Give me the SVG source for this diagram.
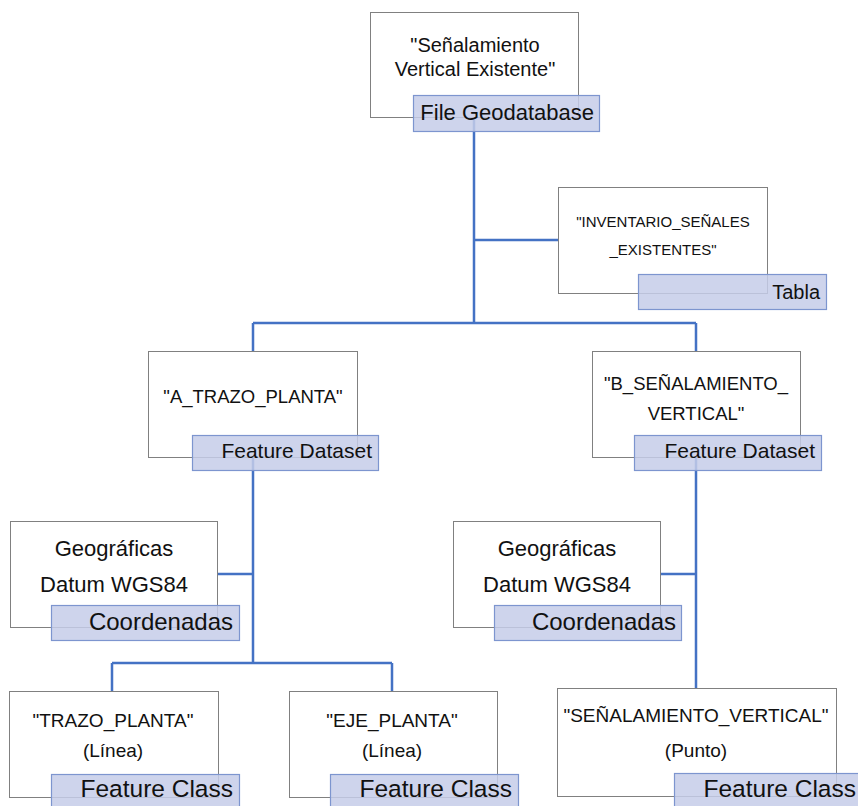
<svg xmlns="http://www.w3.org/2000/svg" width="858" height="806" viewBox="0 0 858 806">
<style>
.box{fill:#fff;stroke:#808080;stroke-width:1}
.lab{fill:#c5cde9;fill-opacity:0.85;stroke:#7d95cf;stroke-width:1.2}
.conn{fill:none;stroke:#4472c4;stroke-width:2.5}
text{font-family:"Liberation Sans",Arial,sans-serif;fill:#111}
.r{font-size:20px;text-anchor:middle}
.t{font-size:18.5px;text-anchor:middle}
.s{font-size:15px;text-anchor:middle}
.g{font-size:22px;text-anchor:middle}
.l{font-size:21px;text-anchor:end}
.b{font-size:24px;text-anchor:end}
</style>
<rect width="858" height="806" fill="#fff"/>
<g id="connectors">
<path class="conn" d="M474,120 V323 M474,240 H558 M253,323 H696 M253,323 V351 M696,323 V351 M253,458 V663 M253,574 H217 M112,663 H392 M112,663 V691 M392,663 V691 M696,458 V688 M696,574 H660"/>
</g>
<g id="n_root">
<rect class="box" x="370.5" y="12.5" width="208" height="105"/>
<rect class="lab" x="413.5" y="95.5" width="186" height="36"/>
<text class="r" x="475" y="52">"Señalamiento</text>
<text class="r" x="475" y="76">Vertical Existente"</text>
<text class="l" x="594" y="120" style="font-size:22px">File Geodatabase</text>
</g>
<g id="n_tabla">
<rect class="box" x="558.5" y="187.5" width="209" height="106"/>
<rect class="lab" x="638.5" y="274.5" width="188" height="35"/>
<text class="s" x="663" y="227">"INVENTARIO_SEÑALES</text>
<text class="s" x="663" y="255">_EXISTENTES"</text>
<text class="l" x="820" y="299" style="font-size:20px">Tabla</text>
</g>
<g id="n_a">
<rect class="box" x="148.5" y="351.5" width="209" height="106"/>
<rect class="lab" x="192.5" y="435.5" width="186" height="35"/>
<text class="t" x="253" y="403">"A_TRAZO_PLANTA"</text>
<text class="l" x="372" y="458">Feature Dataset</text>
</g>
<g id="n_b">
<rect class="box" x="592.5" y="351.5" width="208" height="106"/>
<rect class="lab" x="634.5" y="435.5" width="187" height="35"/>
<text class="t" x="696" y="390">"B_SEÑALAMIENTO_</text>
<text class="t" x="696" y="420">VERTICAL"</text>
<text class="l" x="815" y="458">Feature Dataset</text>
</g>
<g id="n_coord_a">
<rect class="box" x="10.5" y="521.5" width="207" height="106"/>
<rect class="lab" x="51.5" y="605.5" width="188" height="35"/>
<text class="g" x="114" y="556">Geográficas</text>
<text class="g" x="114" y="592">Datum WGS84</text>
<text class="b" x="233" y="630">Coordenadas</text>
</g>
<g id="n_coord_b">
<rect class="box" x="453.5" y="521.5" width="207" height="106"/>
<rect class="lab" x="494.5" y="605.5" width="187" height="35"/>
<text class="g" x="557" y="556">Geográficas</text>
<text class="g" x="557" y="592">Datum WGS84</text>
<text class="b" x="676" y="630">Coordenadas</text>
</g>
<g id="n_trazo">
<rect class="box" x="9.5" y="691.5" width="209" height="106"/>
<rect class="lab" x="51.5" y="774.5" width="188" height="35"/>
<text class="t" x="113" y="727" style="font-size:19px">"TRAZO_PLANTA"</text>
<text class="t" x="113" y="757" style="font-size:19px">(Línea)</text>
<text class="b" x="233" y="797" style="font-size:24.5px">Feature Class</text>
</g>
<g id="n_eje">
<rect class="box" x="289.5" y="691.5" width="208" height="106"/>
<rect class="lab" x="330.5" y="774.5" width="188" height="35"/>
<text class="t" x="392" y="727" style="font-size:19px">"EJE_PLANTA"</text>
<text class="t" x="392" y="757" style="font-size:19px">(Línea)</text>
<text class="b" x="512" y="797" style="font-size:24.5px">Feature Class</text>
</g>
<g id="n_senal">
<rect class="box" x="557.5" y="688.5" width="279" height="108"/>
<rect class="lab" x="674.5" y="773.5" width="190" height="36"/>
<text class="t" x="696" y="722" style="font-size:19px">"SEÑALAMIENTO_VERTICAL"</text>
<text class="t" x="696" y="757" style="font-size:19px">(Punto)</text>
<text class="b" x="856" y="797" style="font-size:24.5px">Feature Class</text>
</g>
</svg>
